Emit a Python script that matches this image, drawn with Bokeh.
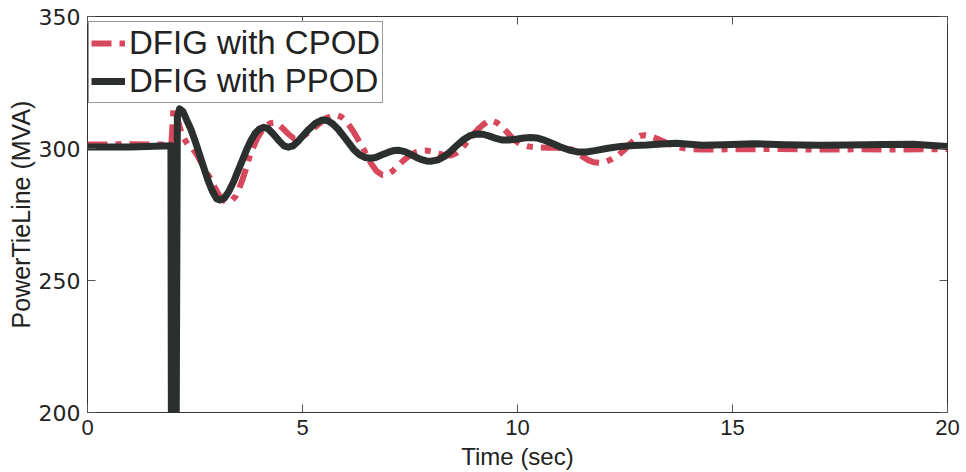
from bokeh.plotting import figure
from bokeh.models import LinearAxis, FixedTicker, Legend, LegendItem, Range1d, Title
from bokeh.embed import file_html
from bokeh.resources import INLINE

# ---- data ----
t_ppod = [0.0, 1.0, 1.94, 1.96, 2.04, 2.09, 2.14, 2.22, 2.30, 2.40, 2.50, 2.60, 2.70, 2.80,
          2.90, 3.00, 3.08, 3.18, 3.28, 3.40, 3.50, 3.60, 3.70, 3.80, 3.90, 4.00, 4.10,
          4.20, 4.32, 4.45, 4.57, 4.67, 4.78, 4.90, 5.02, 5.15, 5.30, 5.45, 5.58, 5.70,
          5.83, 5.95, 6.08, 6.20, 6.33, 6.45, 6.58, 6.70, 6.85, 7.00, 7.12, 7.25, 7.38,
          7.50, 7.63, 7.75, 7.88, 8.00, 8.15, 8.30, 8.45, 8.60, 8.75, 8.90, 9.05, 9.20,
          9.35, 9.50, 9.65, 9.80, 10.0, 10.15, 10.3, 10.45, 10.6, 10.8, 11.0, 11.2, 11.4,
          11.6, 11.8, 12.1, 12.4, 12.7, 13.0, 13.35, 13.7, 14.0, 14.3, 14.8, 15.5, 16.2,
          17.0, 17.7, 18.5, 19.2, 20.0]
v_ppod = [300.6, 300.6, 301.0, 100.0, 100.0, 312.0, 315.0, 314.0, 311.0, 307.5, 303.0, 298.0,
          293.0, 288.0, 284.0, 281.0, 280.5, 281.2, 283.5, 287.5, 291.5, 295.5, 299.5, 303.0,
          305.8, 307.4, 308.0, 307.5, 305.5, 303.0, 301.0, 300.5, 301.0, 302.8, 305.0, 307.3,
          309.5, 310.8, 310.6, 309.4, 307.3, 304.8, 302.0, 299.5, 297.6, 296.6, 296.3, 296.6,
          297.6, 298.6, 299.2, 299.3, 298.8, 297.9, 296.8, 295.9, 295.3, 295.2, 295.7, 297.0,
          299.0, 301.3, 303.4, 304.9, 305.5, 305.4, 304.7, 303.8, 303.2, 303.2, 303.6, 304.0,
          304.2, 304.0, 303.3, 302.0, 300.6, 299.4, 298.7, 298.7, 299.2, 300.1, 300.8, 301.1,
          301.3, 301.7, 302.0, 301.6, 301.2, 301.4, 301.8, 301.4, 301.2, 301.3, 301.5, 301.6,
          300.8]

t_cpod = [0.0, 1.0, 1.95, 2.00, 2.08, 2.20, 2.33, 2.45, 2.55, 2.65, 2.75, 2.86, 2.96, 3.05,
          3.15, 3.25, 3.35, 3.45, 3.53, 3.60, 3.68, 3.75, 3.85, 3.95, 4.05, 4.15, 4.25,
          4.35, 4.45, 4.55, 4.67, 4.80, 4.92, 5.05, 5.18, 5.30, 5.43, 5.55, 5.68, 5.80,
          5.90, 6.00, 6.10, 6.20, 6.30, 6.40, 6.50, 6.60, 6.72, 6.85, 6.98, 7.10, 7.22,
          7.35, 7.50, 7.65, 7.78, 7.90, 8.05, 8.20, 8.33, 8.45, 8.58, 8.70, 8.83, 8.95,
          9.08, 9.20, 9.30, 9.40, 9.52, 9.65, 9.75, 9.85, 9.95, 10.05, 10.25, 10.45, 10.7,
          10.9, 11.1, 11.25, 11.38, 11.5, 11.63, 11.77, 11.9, 12.05, 12.2, 12.35, 12.48,
          12.6, 12.73, 12.85, 12.98, 13.1, 13.28, 13.45, 13.62, 13.8, 14.0, 14.3, 15.0,
          16.0, 17.0, 18.0, 19.0, 20.0]
v_cpod = [301.5, 301.6, 301.5, 315.5, 312.0, 305.0, 301.5, 299.8, 297.5, 294.5, 291.5, 288.5,
          285.3, 282.5, 280.5, 279.5, 280.2, 282.0, 285.0, 288.0, 292.0, 296.0, 300.2, 304.0,
          306.6, 308.5, 309.6, 309.8, 309.0, 307.5, 305.5, 303.8, 303.8, 305.0, 306.6, 308.2,
          310.0, 311.5, 312.3, 312.6, 312.0, 310.5, 308.5, 306.0, 303.2, 300.5, 297.0, 294.2,
          291.5, 290.0, 290.2, 291.5, 293.5, 295.5, 297.5, 298.7, 299.2, 299.2, 298.7, 298.0,
          297.4, 297.3, 298.3, 300.0, 302.5, 305.0, 307.3, 309.0, 310.2, 310.6, 309.8, 308.0,
          306.3, 304.5, 302.9, 301.8, 300.8, 300.4, 300.3, 300.3, 300.1, 299.7, 298.6, 297.1,
          295.7, 294.8, 294.6, 295.0, 296.0, 297.5, 299.4, 301.5, 303.4, 304.8, 305.0, 304.6,
          303.5, 302.3, 301.1, 300.3, 299.8, 299.6, 299.7, 299.8, 299.6, 299.7, 299.6, 299.8]

x_ticks = [0, 5, 10, 15, 20]
y_ticks = [200, 250, 300, 350]
series_names = ["DFIG with CPOD", "DFIG with PPOD"]
x_title = "Time (sec)"
y_title = "PowerTieLine (MVA)"

RED = "#d8485c"
DARK = "#2b302e"
TXT = "#222222"
FONT = "Liberation Sans"

p = figure(width=966, height=472, output_backend="svg", toolbar_location=None,
           x_range=Range1d(0, 20), y_range=Range1d(200, 350),
           min_border_left=87, min_border_right=19, min_border_top=16, min_border_bottom=60,
           x_axis_type=None, y_axis_type=None)
p.background_fill_color = "white"
p.border_fill_color = "white"
p.outline_line_color = "#333333"
p.outline_line_width = 1
p.xgrid.visible = False
p.ygrid.visible = False

r_c = p.line(t_cpod, v_cpod, line_color=RED, line_width=6, line_dash="20 8 6 8")
r_p = p.line(t_ppod, v_ppod, line_color=DARK, line_width=7, line_join="round")


def style(ax, labels=True):
    ax.major_tick_in = 8
    ax.major_tick_out = 0
    ax.minor_tick_line_color = None
    ax.axis_line_color = None
    ax.major_tick_line_color = "#555555"
    ax.major_label_text_font = FONT
    if labels:
        ax.major_label_text_color = TXT
        ax.major_label_text_font_size = "22px"
        ax.major_label_standoff = 7
    else:
        ax.major_label_text_color = None
        ax.major_label_text_font_size = "1px"
        ax.major_label_standoff = 0


xb = LinearAxis(ticker=FixedTicker(ticks=x_ticks), axis_label=x_title)
style(xb)
xb.axis_label_text_font = FONT
xb.axis_label_text_font_size = "24px"
xb.axis_label_text_font_style = "normal"
xb.axis_label_text_color = TXT
xb.axis_label_standoff = 5
p.add_layout(xb, "below")

yl = LinearAxis(ticker=FixedTicker(ticks=y_ticks))
style(yl)
yl.major_label_text_font = "DejaVu Sans"
p.add_layout(yl, "left")

ytitle = Title(text=y_title, align="center", text_font=FONT, text_font_size="25px",
               text_font_style="normal", text_color=TXT, standoff=2, offset=0)
p.add_layout(ytitle, "left")

xt = LinearAxis(ticker=FixedTicker(ticks=x_ticks))
style(xt, labels=False)
p.add_layout(xt, "above")
yr = LinearAxis(ticker=FixedTicker(ticks=y_ticks))
style(yr, labels=False)
p.add_layout(yr, "right")

legend = Legend(items=[LegendItem(label=series_names[0], renderers=[r_c]),
                       LegendItem(label=series_names[1], renderers=[r_p])],
                location=(1, 309))
legend.margin = 0
legend.padding = 2
legend.spacing = 0
legend.label_text_font = FONT
legend.label_text_font_size = "33px"
legend.label_text_color = TXT
legend.label_standoff = 4
legend.glyph_width = 34
legend.label_height = 38
legend.glyph_height = 38
legend.border_line_color = "#333333"
legend.border_line_width = 1
legend.background_fill_color = "white"
legend.background_fill_alpha = 1.0
p.add_layout(legend, "center")

open("out.html", "w").write(file_html(p, INLINE))
